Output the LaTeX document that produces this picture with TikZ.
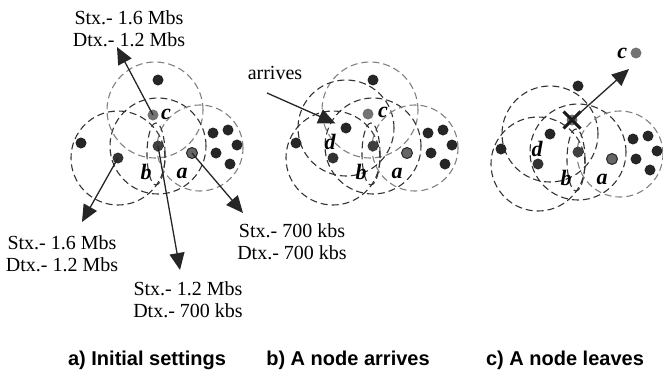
\documentclass[tikz,border=0pt]{standalone}
\usepackage{fontspec}
\setmainfont{Liberation Serif}
\setsansfont{Liberation Sans}
\usetikzlibrary{arrows.meta,positioning,shapes.misc}
\tikzset{
  host/.style={circle,fill=#1,inner sep=0pt,minimum size=11pt},
  host/.default=black!85,
  range/.style={dash pattern=on 7pt off 4pt,line width=1.1pt,draw=#1},
  range/.default=black!80,
  tag/.style={font=\fontsize{22}{24}\selectfont\bfseries\itshape,inner sep=0pt},
  rate/.style={font=\fontsize{20}{22}\selectfont,align=center,inner sep=0pt},
  move/.style={line width=1.3pt,black!85,-{Triangle[length=17pt,width=15pt]}},
  caption/.style={font=\fontsize{20}{22}\selectfont\sffamily\bfseries}
}
% hosts and ranges common to all three panels, #1 = prefix
\newcommand{\basenet}[1]{
  \draw[range] (118,158) circle[radius=47pt];
  \draw[range] (158,146) circle[radius=48pt];
  \draw[range=black!50] (200,148) circle[radius=43pt];
  \draw[range] (156,154) ellipse[x radius=9pt,y radius=31pt];
  \node[host] (#1-top) at (158,80) {};
  \node[host=black!75] (#1-b) at (158,146) {};
  \node[host] (#1-l) at (81,143) {};
  \node[host=black!80] (#1-m) at (118,158) {};
  \node[host=black!60,draw=black!85,line width=1pt] (#1-a) at (192,153) {};
  \foreach \p [count=\i] in {(213,133),(228,130),(237,145),(216,153),(230,164)}
    \node[host] (#1-k\i) at \p {};
  \node[tag] (#1-lb) at (146,172) {b};
  \node[tag] (#1-la) at (182,173) {a};
}
\begin{document}
\begin{tikzpicture}[x=1pt,y=-1pt]
  \useasboundingbox (0,0) rectangle (663,375);

  % a) initial settings
  \begin{scope}
    \draw[range=black!50] (155,110) circle[radius=48pt];
    \basenet{p}
    \node[host=black!55] (p-c) at (153,115) {};
    \node[tag] (p-lc) at (166,114) {c};
    \node[rate] (p-rc) at (129,29) {Stx.- 1.6 Mbs\\Dtx.- 1.2 Mbs};
    \node[rate] (p-rm) at (62,254) {Stx.- 1.6 Mbs\\Dtx.- 1.2 Mbs};
    \node[rate] (p-rb) at (188,300) {Stx.- 1.2 Mbs\\Dtx.- 700 kbs};
    \node[rate] (p-ra) at (292,242) {Stx.- 700 kbs\\Dtx.- 700 kbs};
    \coordinate (p-tc) at (117,47);
    \coordinate (p-tm) at (82,222);
    \coordinate (p-tb) at (180,270);
    \coordinate (p-ta) at (243,213);
    \draw[move] (p-c.center) -- (p-tc);
    \draw[move] (p-m.center) -- (p-tm);
    \draw[move] (p-b.center) -- (p-tb);
    \draw[move] (p-a.center) -- (p-ta);
  \end{scope}

  % b) a node arrives
  \begin{scope}[xshift=215pt]
    \draw[range=black!50] (155,110) circle[radius=48pt];
    \draw[range] (131,128) circle[radius=48pt];
    \basenet{q}
    \node[host=black!55] (q-c) at (153,114) {};
    \node[host] (q-d) at (131,128) {};
    \node[tag] (q-lc) at (168,112) {c};
    \node[tag] (q-ld) at (115,142) {d};
    \node[font=\fontsize{20}{22}\selectfont] (q-txt) at (60,73) {arrives};
    \coordinate (q-from) at (52,93);
    \draw[move,shorten >=6pt] (q-from) -- (q-d);
  \end{scope}

  % c) a node leaves
  \begin{scope}[xshift=420pt,yshift=-6pt]
    \draw[range] (130,128) circle[radius=48pt];
    \basenet{r}
    \node[host] (r-d) at (130,128) {};
    \node[tag] (r-ld) at (117,143) {d};
    \node[host=black!55] (r-old) at (152,114) {};
    \node[cross out,draw=black!90,line width=3pt,minimum size=14pt,inner sep=0pt] (r-x) at (152,114) {};
    \node[host=black!55] (r-c) at (216,47) {};
    \node[tag,left=3pt of r-c] (r-lc) {c};
    \coordinate (r-tip) at (209,63);
    \draw[move] (r-x.center) -- (r-tip);
  \end{scope}

  % captions
  \node[caption] (cap-a) at (147,360) {a) Initial settings};
  \node[caption] (cap-b) at (348,360) {b) A node arrives};
  \node[caption] (cap-c) at (565,360) {c) A node leaves};
\end{tikzpicture}
\end{document}
